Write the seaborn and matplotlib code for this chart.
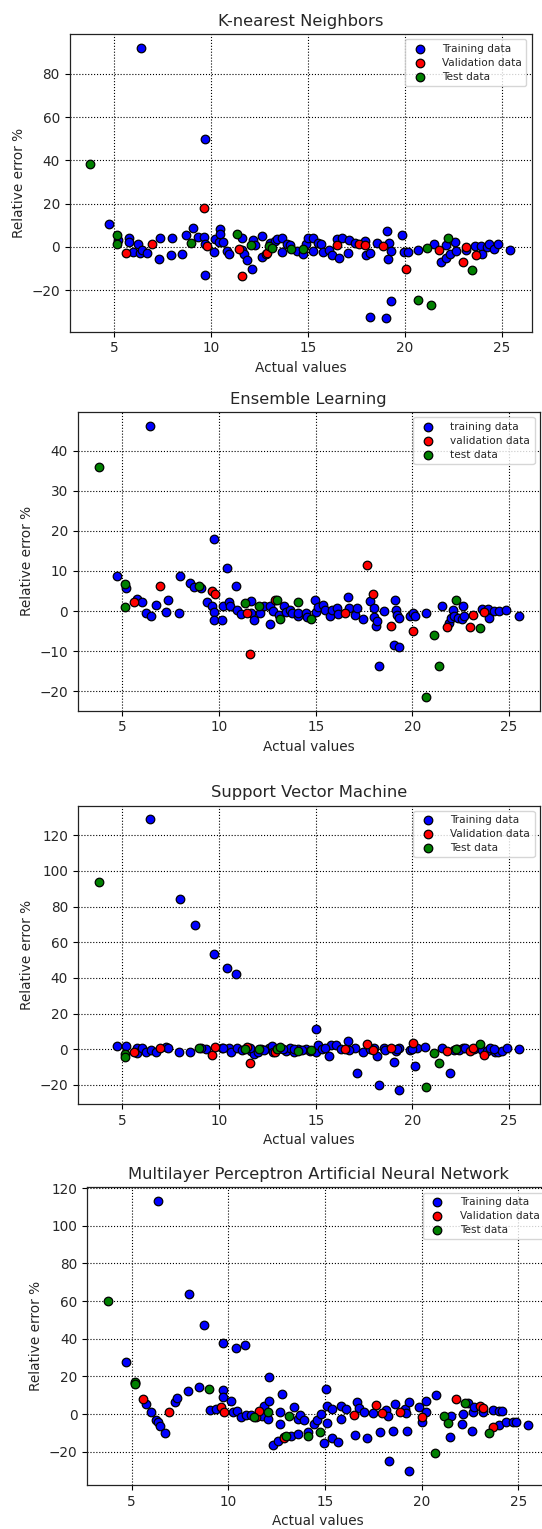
import matplotlib
matplotlib.use("Agg")
import matplotlib.pyplot as plt
import seaborn as sns

# ---------------- data ----------------
titles = ["K-nearest Neighbors", "Ensemble Learning", "Support Vector Machine",
          "Multilayer Perceptron Artificial Neural Network"]
legend_upper = ["Training data", "Validation data", "Test data"]
legend_lower = ["training data", "validation data", "test data"]

val_x = [5.6, 6.94, 9.62, 9.8, 11.42, 11.58, 12.9, 16.5, 17.65, 17.95, 18.88, 20.04, 21.78, 23.0, 23.15, 23.68]
test_x = [3.78, 5.16, 5.16, 8.98, 11.33, 12.07, 13.0, 13.14, 14.1, 14.75, 20.7, 21.14, 21.36, 22.25, 23.47]

knn_train_x = [4.75, 5.2, 5.75, 5.75, 5.98, 6.25, 6.34, 6.39, 6.46, 6.7, 7.29, 7.36, 7.91, 7.96, 8.48, 8.71, 9.07, 9.32,
               9.64, 9.7, 9.71, 9.71, 10.14, 10.21, 10.39, 10.46, 10.46, 10.64, 10.8, 10.93, 11.61, 11.61, 11.7, 11.84,
               12.11, 12.14, 12.29, 12.61, 12.64, 12.86, 13.04, 13.3, 13.39, 13.66, 13.66, 13.93, 14.07, 14.46, 14.73,
               14.91, 15.0, 15.27, 15.27, 15.5, 15.68, 15.8, 16.07, 16.25, 16.52, 16.61, 16.75, 17.05, 17.11, 17.41,
               17.95, 18.0, 18.18, 18.21, 18.57, 19.02, 19.07, 19.11, 19.2, 19.29, 19.29, 19.86, 19.96, 20.18, 20.66,
               21.52, 21.88, 22.11, 22.14, 22.32, 22.59, 22.64, 23.13, 23.61, 23.93, 23.96, 24.25, 24.34, 24.61,
               24.82, 25.45]
knn_train_y = [10.5, 3.0, 4.3, 2.3, -2.3, 1.5, -2.6, 92.1, -1.5, -2.6, -5.7, 4.0, -3.7, 4.3, -3.4, 5.5, 8.6, 4.6,
               4.6, 49.7, -12.9, 1.2, -2.2, 3.5, 2.3, 8.2, 5.8, 2.3, -1.8, -3.4, -1.5, 4.3, -3.4, -6.0,
               -10.0, 3.1, 0.9, 5.1, -4.6, -3.4, 1.7, 2.8, 3.5, 4.0, -2.3, 1.5, 0.8, -1.8, -3.4,
               1.5, 4.0, 4.0, -1.8, 2.0, 1.2, -2.2, -1.4, -3.7, 3.5, -5.2, 4.0, -2.9, 3.1, 2.0,
               2.8, -3.7, -2.9, -32.3, 1.7, -32.9, 7.4, -5.7, 2.0, -1.8, -24.9, 5.4, -2.2, -2.2, -1.4,
               1.2, -6.8, -5.2, 0.9, -3.4, 2.3, -1.8, -1.5, 0.5, 0.5, -3.1, 0.0, 1.2, -1.1,
               1.2, -1.4]
knn_val_y = [-2.6, 1.2, 17.8, 0.3, -0.9, -13.2, -2.6, 0.9, 1.2, 0.8, 0.5, -10.0, -1.5, -6.8, 0.0, -3.7]
knn_test_y = [38.5, 5.5, 1.2, 1.7, 5.8, 0.9, 0.3, -0.3, -1.1, -1.1, -24.3, -0.6, -26.7, 4.0, -10.6]

ens_train_x = [4.73, 5.21, 5.75, 6.02, 6.23, 6.41, 6.47, 6.73, 7.27, 7.36, 7.95, 7.98, 8.49, 8.7, 9.06, 9.36, 9.63,
               9.72, 9.72, 9.72, 10.17, 10.22, 10.4, 10.49, 10.58, 10.85, 10.93, 11.15, 11.65, 11.65, 11.83, 12.13,
               12.31, 12.63, 12.63, 12.81, 13.08, 13.35, 13.44, 13.67, 13.79, 14.06, 14.1, 14.51, 14.56, 14.96,
               15.01, 15.13, 15.4, 15.49, 15.76, 15.85, 16.12, 16.17, 16.65, 16.74, 17.01, 17.13, 17.46, 17.81,
               17.99, 18.03, 18.13, 18.17, 18.26, 18.53, 19.03, 19.1, 19.15, 19.2, 19.28, 19.33, 19.87, 20.05,
               20.14, 20.71, 21.53, 21.89, 22.01, 22.1, 22.13, 22.37, 22.55, 22.64, 22.67, 23.6, 23.9, 23.95,
               24.22, 24.49, 24.85, 25.5]
ens_train_y = [8.75, 5.8, 3.0, 2.2, -0.5, 46.3, -1.3, 1.6, -0.3, 2.7, -0.5, 8.75, 7.0, 6.0, 5.8, 2.2, 1.2,
               -0.3, -2.2, 18.0, -2.2, 1.2, 10.8, 2.2, 1.3, 6.2, 0.3, -0.8, 2.4, -0.5, -2.3, -0.5,
               1.3, 1.3, -3.2, -0.1, -0.9, 1.2, -0.3, 0.2, -0.5, -1.3, -0.5, -0.5, -1.5, 2.8,
               -0.3, 1.0, 1.6, 0.3, -1.2, 0.2, 0.8, -0.7, 3.5, 0.8, -0.9, 0.8, -2.0, 2.4,
               0.8, -1.5, -3.8, -2.6, -13.7, -0.1, -8.5, 2.7, 0.3, -0.9, -1.8, -8.9, -1.3, -0.5,
               -1.2, -0.5, 1.3, -3.0, -1.8, 0.3, -1.3, -1.8, -2.0, 1.2, -1.2, 0.5, 0.5, -1.8,
               -0.1, -0.1, 0.3, -1.3]
ens_val_y = [2.2, 6.3, 4.9, 4.3, -0.5, -10.7, 2.8, -0.4, 11.6, 4.3, -3.8, -5.1, -3.9, -3.9, -0.9, -0.3]
ens_test_y = [36.0, 6.8, 0.9, 6.3, 2.0, 1.3, 2.7, -1.9, 2.2, -2.0, -21.5, -6.0, -13.75, 2.8, -4.25]

svm_train_x = [4.73, 5.21, 5.75, 5.75, 6.02, 6.23, 6.41, 6.47, 6.73, 7.27, 7.36, 7.95, 7.98, 8.49, 8.74, 9.33, 9.74,
               10.13, 10.4, 10.49, 10.63, 10.85, 10.93, 11.2, 11.65, 11.83, 12.01, 12.19, 12.56, 12.74, 12.81,
               13.17, 13.44, 13.67, 13.85, 14.1, 14.51, 14.69, 15.0, 15.01, 15.11, 15.31, 15.67, 15.81, 16.06,
               16.29, 16.65, 17.01, 17.15, 17.46, 17.99, 18.17, 18.26, 18.53, 19.03, 19.15, 19.3, 19.33, 19.87,
               20.14, 20.23, 20.67, 21.53, 21.92, 22.13, 22.28, 22.6, 23.17, 23.62, 23.88, 24.03, 24.25, 24.43,
               24.61, 24.88, 25.5,
               9.06, 10.2, 11.6, 12.3, 13.0, 13.3, 13.9, 14.3, 15.5, 16.7, 17.8, 18.6, 19.2, 20.0, 22.4, 22.7, 24.2]
svm_train_y = [2.0, 1.7, 0.6, -2.0, 0.6, -1.7, 129.0, -0.2, -1.3, 1.1, 0.6, -1.3, 84.1, -1.3, 69.5, 0.2, 53.5,
               0.6, 45.3, 0.6, -1.3, 42.1, 0.6, -0.2, -0.7, -2.6, -1.3, 0.2, 0.6, 1.7, -1.3,
               0.6, -0.7, 0.6, -1.7, 0.2, 0.2, -0.7, 11.4, -1.7, 2.4, 0.2, -3.9, 2.4, 2.4,
               0.2, 4.5, 0.6, -13.2, -1.3, 0.6, -3.9, -19.9, 0.6, -7.3, -0.7, -23.1, 0.6, -0.2,
               -9.5, 0.6, 1.1, 0.6, -13.2, -0.2, 0.2, 0.6, 0.2, -0.2, -0.7, 0.6, -1.3, -1.7,
               -0.7, 0.6, 0.2,
               0.5, 0.8, 0.8, -0.5, 0.3, 0.4, 0.3, -0.3, 0.6, -0.3, 0.2, -0.2, 0.3, 0.4, -0.2, 0.5, 0.3]
svm_val_y = [-1.7, 0.6, -3.5, 1.1, 1.1, -7.8, -1.3, 0.2, 3.0, -0.2, 0.6, 3.4, -1.1, -1.1, 0.6, -3.2]
svm_test_y = [93.8, -2.6, -4.5, 0.6, 0.2, 0.2, 0.2, 1.1, -1.1, -0.2, -21.2, -2.2, -7.6, 0.2, 2.8]

mlp_train_x = [4.73, 5.18, 5.72, 5.99, 6.25, 6.38, 6.38, 6.49, 6.74, 7.24, 7.37, 7.92, 7.99, 8.49, 8.73, 9.07, 9.35,
               9.71, 9.71, 9.71, 10.14, 10.23, 10.41, 10.47, 10.65, 10.86, 10.91, 11.18, 11.76, 11.86, 12.08,
               12.13, 12.13, 12.29, 12.58, 12.65, 12.65, 12.8, 12.89, 13.24, 13.42, 13.6, 13.62, 13.73, 13.91,
               14.1, 14.44, 14.59, 14.8, 14.95, 15.04, 15.09, 15.13, 15.34, 15.34, 15.7, 15.81, 15.84, 16.11,
               16.56, 16.68, 16.74, 17.04, 17.19, 17.49, 17.85, 18.17, 18.26, 18.3, 18.53, 18.62, 19.12, 19.21,
               19.25, 19.34, 19.37, 19.87, 20.0, 20.23, 20.23, 20.72, 21.49, 21.54, 22.11, 22.15, 22.38, 22.62,
               22.65, 22.69, 23.19, 23.67, 24.0, 24.0, 24.18, 24.35, 24.75, 24.89, 25.5]
mlp_train_y = [27.6, 16.3, 5.5, 0.9, -3.0, -4.4, 113.2, -6.5, -10.0, 6.2, 8.5, 12.4, 63.7, 14.6, 47.3, 2.1, 3.0,
               12.8, 9.3, 37.7, 7.2, 0.9, 35.3, 1.8, -1.6, 36.5, -0.5, -0.7, -0.9, 4.4, -2.3,
               7.2, 19.8, -16.5, -14.4, 0.9, -5.4, 10.5, -12.1, -11.4, 3.7, -2.3, -10.4, -0.4, -3.3,
               -9.5, -5.1, -3.0, 0.0, -15.3, 13.2, 4.4, -4.7, 2.6, -12.8, -14.6, -2.6, 4.4, 2.6,
               -11.1, 6.7, 3.2, 0.9, -12.8, 0.5, -9.3, 2.3, -0.9, -24.9, -9.1, 5.4, 2.6, 0.5,
               -8.8, -30.4, 6.7, 4.0, -3.9, 7.2, 0.9, 10.0, -12.1, -0.9, -5.3, 0.0, 6.1, -9.1,
               0.9, 4.0, 1.4, 2.3, -5.6, 1.8, 1.8, -3.9, -4.2, -4.2, -5.8]
mlp_val_y = [8.1, 0.9, 4.0, 0.9, -1.6, 1.9, -12.6, -0.4, 4.9, 0.7, 1.2, -1.6, 8.1, 4.6, 3.5, -7.0]
mlp_test_y = [59.9, 17.2, 16.0, 13.5, -1.6, 0.9, -11.4, -0.9, -11.8, -9.5, -20.7, -1.2, -4.7, 6.1, -10.0]

# ---------------- figure ----------------
sns.set_style("white")
plt.rcParams["font.family"] = ["DejaVu Sans"]
plt.rcParams["xtick.bottom"] = True
plt.rcParams["ytick.left"] = True

W, H = 542, 1529
fig = plt.figure(figsize=(W / 100, H / 100), dpi=100)

# axes boxes in pixels: left, top, right, bottom
boxes = [(69.5, 34, 531.5, 331.7), (77.8, 412, 539.8, 710.7),
         (77.8, 805.7, 539.8, 1104), (87, 1187.3, 549, 1485)]

panels = [
    (knn_train_x, knn_train_y, knn_val_y, knn_test_y, legend_upper),
    (ens_train_x, ens_train_y, ens_val_y, ens_test_y, legend_lower),
    (svm_train_x, svm_train_y, svm_val_y, svm_test_y, legend_upper),
    (mlp_train_x, mlp_train_y, mlp_val_y, mlp_test_y, legend_upper),
]

for (l, t, r, b), title, (tx, ty, vy, tsy, labels) in zip(boxes, titles, panels):
    ax = fig.add_axes([l / W, (H - b) / H, (r - l) / W, (b - t) / H])
    kw = dict(s=38, edgecolor="black", linewidth=0.9, ax=ax, zorder=3)
    sns.scatterplot(x=tx, y=ty, color="blue", label=labels[0], **kw)
    sns.scatterplot(x=val_x, y=vy, color="red", label=labels[1], **kw)
    sns.scatterplot(x=test_x, y=tsy, color="green", label=labels[2], **kw)
    ax.set_axisbelow(True)
    ax.grid(True, linestyle=":", color="black", linewidth=0.8)
    ax.set_title(title, fontsize=11.8)
    ax.set_xlabel("Actual values", fontsize=9.8)
    ax.set_ylabel("Relative error %", fontsize=9.8)
    ax.tick_params(labelsize=9.8, length=3.5, width=0.8, color="black")
    for sp in ax.spines.values():
        sp.set_color("#222222")
        sp.set_linewidth(0.9)
    ax.legend(loc="upper right", fontsize=7.6, labelspacing=0.38, handletextpad=1.1)

fig.savefig("out.png", dpi=100)
